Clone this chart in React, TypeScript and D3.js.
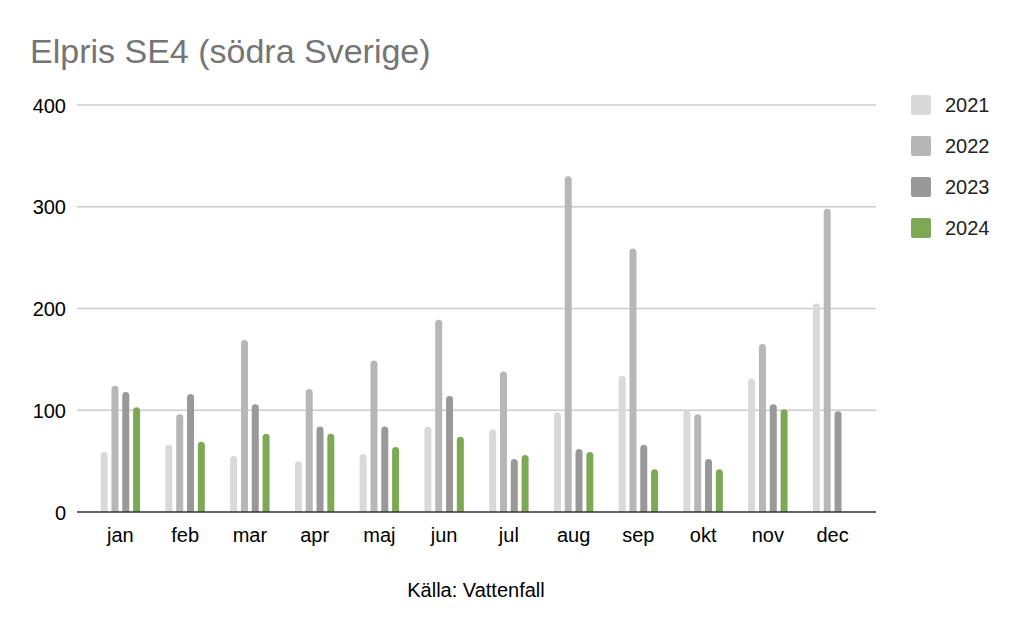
import React from "react";
import * as d3 from "d3";

const months = ["jan", "feb", "mar", "apr", "maj", "jun", "jul", "aug", "sep", "okt", "nov", "dec"];
const years = ["2021", "2022", "2023", "2024"];
const v2021 = [59, 66, 55, 50, 57, 84, 81, 98, 134, 100, 131, 205];
const v2022 = [124, 96, 169, 121, 149, 189, 138, 330, 259, 96, 165, 298];
const v2023 = [118, 116, 106, 84, 84, 114, 52, 62, 66, 52, 106, 99];
const v2024 = [103, 69, 77, 77, 64, 74, 56, 59, 42, 42, 101, null as number | null];
const yTicks = [0, 100, 200, 300, 400];
const colors = ["#d9d9d9", "#b7b7b7", "#999999", "#7ea954"];

const series = [v2021, v2022, v2023, v2024];

function barPath(x: number, y: number, w: number, y0: number) {
  const r = Math.min(w / 2, y0 - y);
  return `M${x},${y0} L${x},${y + r} A${r},${r} 0 0 1 ${x + w},${y + r} L${x + w},${y0} Z`;
}

export default function App() {
  const W = 1024, H = 633;
  const gridX0 = 77, gridX1 = 876;
  const x = d3.scaleBand<string>().domain(months).range([88, 865]);
  const y = d3.scaleLinear().domain([0, 400]).range([512, 105]);
  const sub = d3.scaleBand<string>().domain(years).range([-20, 20]).paddingInner(0.3);
  const bw = 7;
  const font = "'Liberation Sans', Arial, sans-serif";
  return (
    <svg width={W} height={H} style={{ position: "absolute", left: 0, top: 0, fontFamily: font }}>
      <rect width={W} height={H} fill="#fff" />
      <text x={30} y={63} fontSize={34} fill="#757575">Elpris SE4 (södra Sverige)</text>
      {yTicks.map(t => (
        <g key={t}>
          {t !== 0 && <line x1={gridX0} x2={gridX1} y1={y(t)} y2={y(t)} stroke="#cccccc" strokeWidth={1.5} />}
          <text x={66} y={y(t) + 7.5} fontSize={20} textAnchor="end" fill="#000">{t}</text>
        </g>
      ))}
      {months.map((m, i) => {
        const cx = (x(m) as number) + x.bandwidth() / 2;
        return (
          <g key={m}>
            {series.map((s, k) => {
              const v = s[i];
              if (v == null) return null;
              const bx = cx + (sub(years[k]) as number) + sub.bandwidth() / 2 - bw / 2;
              return <path key={k} d={barPath(bx, y(v), bw, y(0))} fill={colors[k]} />;
            })}
            <text x={cx} y={542} fontSize={20} textAnchor="middle" fill="#000">{m}</text>
          </g>
        );
      })}
      <line x1={gridX0} x2={gridX1} y1={y(0)} y2={y(0)} stroke="#333" strokeWidth={1.5} />
      {years.map((yr, k) => (
        <g key={yr} transform={`translate(911, ${95 + k * 41})`}>
          <rect width={20} height={20} rx={2} fill={colors[k]} />
          <text x={34} y={17} fontSize={20} fill="#222">{yr}</text>
        </g>
      ))}
      <text x={476} y={597} fontSize={20} textAnchor="middle" fill="#000">Källa: Vattenfall</text>
    </svg>
  );
}
